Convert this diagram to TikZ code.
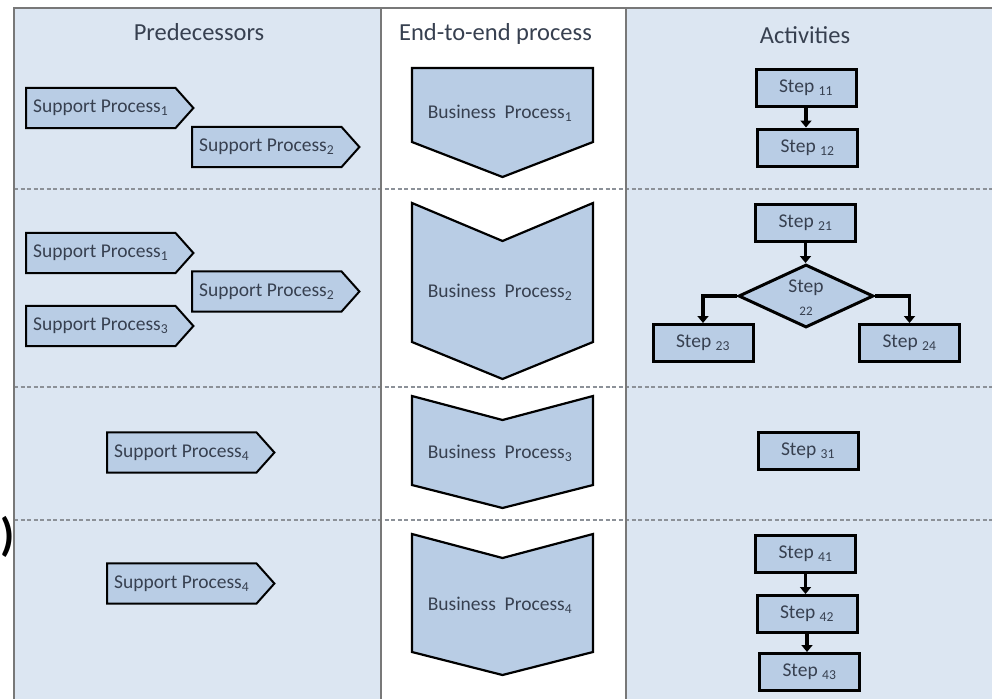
\documentclass[tikz,border=0pt]{standalone}
\usepackage{fontspec}
\setmainfont{Carlito}
\usetikzlibrary{arrows.meta,shapes.geometric}
\definecolor{panelbg}{RGB}{220,230,242}
\definecolor{shapefill}{RGB}{185,205,229}
\definecolor{txt}{RGB}{55,64,80}
\definecolor{framegray}{RGB}{120,120,120}
\definecolor{dashgray}{RGB}{140,145,152}
\pgfdeclarelayer{panel}
\pgfdeclarelayer{shp}
\pgfsetlayers{panel,shp,main}
\tikzset{
  body/.style={font=\fontsize{19.5}{23}\selectfont, text=txt},
  header/.style={font=\fontsize{24.5}{28}\selectfont, text=txt, anchor=base},
  sptext/.style={body, anchor=west, minimum width=149pt, minimum height=40pt, inner sep=0pt},
  spshape/.style={draw=black, line width=2pt, fill=shapefill, line join=miter},
  bpshape/.style={draw=black, line width=2.2pt, fill=shapefill, line join=miter},
  bptext/.style={body},
  stepbox/.style={rectangle, draw=black, line width=3pt, fill=shapefill, body,
    minimum width=100pt, minimum height=37pt, inner sep=0pt},
  decision/.style={diamond, draw=black, line width=3pt, fill=shapefill,
    minimum width=135pt, minimum height=63pt, inner sep=0pt},
  flow/.style={line width=3.5pt, -{Triangle[length=7pt,width=11pt]}},
  sepline/.style={draw=dashgray, line width=1.3pt, dash pattern=on 4pt off 2.5pt},
  framel/.style={draw=framegray, line width=1.5pt},
}
\newcommand\SupProc[3]{%
  \node[sptext] (#1) at (#2) {#3};
  \begin{pgfonlayer}{shp}
    \draw[spshape] (#1.north west) -- (#1.north east) -- ([xshift=18pt]#1.east)
      -- (#1.south east) -- (#1.south west) -- cycle;
  \end{pgfonlayer}}
\newcommand\SubT[1]{\textsubscript{#1}}
\begin{document}
\begin{tikzpicture}[x=1pt,y=-1pt]
\useasboundingbox (0,0) rectangle (992,699);
% panels
\begin{pgfonlayer}{panel}
  \fill[white] (0,0) rectangle (992,699);
  \fill[panelbg] (14,8) rectangle (381,699);
  \fill[white] (381,8) rectangle (626,699);
  \fill[panelbg] (626,8) rectangle (992,699);
  \draw[sepline] (14,189) -- (992,189);
  \draw[sepline] (14,387) -- (992,387);
  \draw[sepline] (14,520) -- (992,520);
  \draw[framel] (14,699) -- (14,8) -- (992,8);
  \draw[framel] (381,8) -- (381,699);
  \draw[framel] (626,8) -- (626,699);
\end{pgfonlayer}
% stray bracket at the left edge
\node[font=\fontsize{46}{46}\selectfont\bfseries, inner sep=0pt] (brk) at (8,537) {)};
% headers
\node[header] (hpred) at (199,40) {Predecessors};
\node[header] (hend) at (495.5,40) {End-to-end process};
\node[header] (hact) at (805,43) {Activities};
% support processes
\SupProc{sp11}{26,108}{Support Process\SubT{1}}
\SupProc{sp12}{192,147}{Support Process\SubT{2}}
\SupProc{sp21}{26,253}{Support Process\SubT{1}}
\SupProc{sp22}{192,291.5}{Support Process\SubT{2}}
\SupProc{sp23}{26,326}{Support Process\SubT{3}}
\SupProc{sp34}{107,452.5}{Support Process\SubT{4}}
\SupProc{sp44}{107,583.5}{Support Process\SubT{4}}
% business processes
\begin{pgfonlayer}{shp}
  \draw[bpshape] (412,68) -- (593,68) -- (593,142) -- (502.5,177) -- (412,142) -- cycle;
  \draw[bpshape] (412,203) -- (502.5,241) -- (593,203) -- (593,342) -- (502.5,379) -- (412,342) -- cycle;
  \draw[bpshape] (412,396) -- (502.5,420) -- (593,396) -- (593,485) -- (502.5,508) -- (412,485) -- cycle;
  \draw[bpshape] (412,534) -- (502.5,558) -- (593,534) -- (593,652) -- (502.5,675) -- (412,652) -- cycle;
\end{pgfonlayer}
\node[bptext] (bp1) at (500,113) {Business\ \ Process\SubT{1}};
\node[bptext] (bp2) at (500,292) {Business\ \ Process\SubT{2}};
\node[bptext] (bp3) at (500,453) {Business\ \ Process\SubT{3}};
\node[bptext] (bp4) at (500,605) {Business\ \ Process\SubT{4}};
% activities
\node[stepbox] (s11) at (806,88) {Step \SubT{11}};
\node[stepbox] (s12) at (807.5,147.5) {Step \SubT{12}};
\draw[flow] (s11.south) -- (s11.south |- s12.north);

\node[stepbox] (s21) at (805.5,223) {Step \SubT{21}};
\node[decision] (s22) at (806,296) {};
\node[body, align=center, inner sep=0pt] (s22t) at (806,298) {Step\\{\fontsize{13}{13}\selectfont 22}};
\node[stepbox] (s23) at (703,343) {Step \SubT{23}};
\node[stepbox] (s24) at (909.5,343) {Step \SubT{24}};
\draw[flow] (s21.south) -- (s21.south |- s22.north);
\draw[flow] (s22.west) -| (s23.north);
\draw[flow] (s22.east) -| (s24.north);

\node[stepbox] (s31) at (808,450.5) {Step \SubT{31}};

\node[stepbox] (s41) at (805.5,554) {Step \SubT{41}};
\node[stepbox] (s42) at (807,614) {Step \SubT{42}};
\node[stepbox] (s43) at (809.5,672) {Step \SubT{43}};
\draw[flow] (s41.south) -- (s41.south |- s42.north);
\draw[flow] (s42.south) -- (s42.south |- s43.north);
\end{tikzpicture}
\end{document}
